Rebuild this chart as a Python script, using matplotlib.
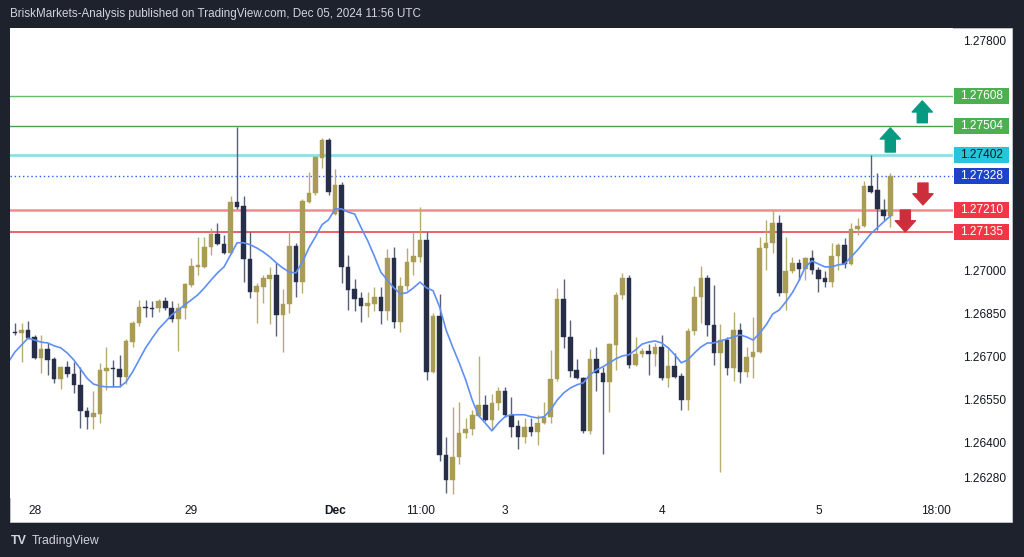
import numpy as np
import matplotlib
matplotlib.use("Agg")
import matplotlib.pyplot as plt
from matplotlib.patches import Rectangle
import matplotlib.transforms as mtransforms

# hourly GBPUSD-style candles, Nov 27 21:00 -> Dec 05 11:00 (UTC)
opens = [1.26786, 1.26782, 1.26793, 1.26769, 1.26696, 1.26727, 1.26693, 1.26623, 1.26665, 1.26640,
         1.26602, 1.26511, 1.26491, 1.26501, 1.26651, 1.26661, 1.26658, 1.26630, 1.26751, 1.26818,
         1.26874, 1.26870, 1.26870, 1.26895, 1.26870, 1.26832, 1.26870, 1.26950, 1.27013, 1.27013,
         1.27083, 1.27128, 1.27093, 1.27062, 1.27239, 1.27225, 1.27041, 1.26926, 1.26943, 1.26971,
         1.26985, 1.26846, 1.26884, 1.27086, 1.26960, 1.27239, 1.27271, 1.27393, 1.27455, 1.27197,
         1.27299, 1.27013, 1.26936, 1.26905, 1.26877, 1.26884, 1.26909, 1.26860, 1.27044, 1.26821,
         1.26946, 1.27030, 1.27048, 1.27107, 1.26647, 1.26842, 1.26358, 1.26271, 1.26350, 1.26435,
         1.26449, 1.26494, 1.26532, 1.26480, 1.26539, 1.26581, 1.26498, 1.26459, 1.26421, 1.26456,
         1.26438, 1.26469, 1.26491, 1.26623, 1.26902, 1.26769, 1.26654, 1.26626, 1.26442, 1.26693,
         1.26644, 1.26612, 1.26741, 1.26916, 1.26974, 1.26672, 1.26710, 1.26720, 1.26710, 1.26734,
         1.26626, 1.26668, 1.26633, 1.26549, 1.26790, 1.26909, 1.26974, 1.26811, 1.26713, 1.26758,
         1.26661, 1.26793, 1.26647, 1.26700, 1.26717, 1.27079, 1.27097, 1.27166, 1.26923, 1.26999,
         1.27027, 1.27006, 1.27044, 1.27002, 1.26974, 1.26960, 1.27051, 1.27090, 1.27023, 1.27145,
         1.27156, 1.27295, 1.27281, 1.27211, 1.27190]
highs = [1.26818, 1.26818, 1.26825, 1.26776, 1.26776, 1.26748, 1.26700, 1.26668, 1.26686, 1.26682,
         1.26665, 1.26525, 1.26581, 1.26679, 1.26734, 1.26689, 1.26707, 1.26762, 1.26825, 1.26898,
         1.26898, 1.26895, 1.26902, 1.26909, 1.26895, 1.26888, 1.26957, 1.27044, 1.27118, 1.27118,
         1.27149, 1.27166, 1.27125, 1.27260, 1.27501, 1.27260, 1.27135, 1.26957, 1.26985, 1.27013,
         1.27027, 1.26936, 1.27139, 1.27097, 1.27250, 1.27344, 1.27400, 1.27462, 1.27462, 1.27355,
         1.27309, 1.27055, 1.26971, 1.26926, 1.26926, 1.26943, 1.26943, 1.27076, 1.27083, 1.26978,
         1.27079, 1.27135, 1.27222, 1.27135, 1.26853, 1.26919, 1.26421, 1.26525, 1.26542, 1.26487,
         1.26515, 1.26703, 1.26567, 1.26570, 1.26595, 1.26595, 1.26560, 1.26480, 1.26487, 1.26487,
         1.26498, 1.26542, 1.26724, 1.26940, 1.26971, 1.26828, 1.26693, 1.26630, 1.26727, 1.26734,
         1.26665, 1.26748, 1.26926, 1.26992, 1.26985, 1.26769, 1.26731, 1.26744, 1.26748, 1.26776,
         1.26734, 1.26713, 1.26644, 1.26800, 1.26946, 1.27016, 1.26985, 1.26950, 1.26814, 1.26769,
         1.26856, 1.26818, 1.26734, 1.26839, 1.27118, 1.27177, 1.27211, 1.27194, 1.27118, 1.27048,
         1.27041, 1.27048, 1.27072, 1.27013, 1.26999, 1.27097, 1.27097, 1.27114, 1.27166, 1.27184,
         1.27312, 1.27403, 1.27340, 1.27250, 1.27340]
lows = [1.26776, 1.26682, 1.26762, 1.26693, 1.26644, 1.26637, 1.26609, 1.26588, 1.26630, 1.26574,
        1.26452, 1.26449, 1.26449, 1.26469, 1.26584, 1.26595, 1.26595, 1.26605, 1.26734, 1.26807,
        1.26839, 1.26839, 1.26856, 1.26863, 1.26821, 1.26720, 1.26832, 1.26943, 1.26985, 1.27009,
        1.27055, 1.27090, 1.27058, 1.27058, 1.27215, 1.26960, 1.26905, 1.26818, 1.26888, 1.26814,
        1.26772, 1.26717, 1.26853, 1.26909, 1.26923, 1.27236, 1.27264, 1.27358, 1.27264, 1.27194,
        1.26957, 1.26863, 1.26860, 1.26821, 1.26839, 1.26860, 1.26814, 1.26828, 1.26800, 1.26786,
        1.26933, 1.26985, 1.27030, 1.26619, 1.26644, 1.26337, 1.26226, 1.26222, 1.26326, 1.26417,
        1.26428, 1.26491, 1.26476, 1.26445, 1.26515, 1.26491, 1.26421, 1.26379, 1.26400, 1.26424,
        1.26393, 1.26466, 1.26469, 1.26616, 1.26731, 1.26630, 1.26623, 1.26435, 1.26431, 1.26581,
        1.26361, 1.26508, 1.26654, 1.26902, 1.26661, 1.26668, 1.26700, 1.26637, 1.26668, 1.26619,
        1.26595, 1.26626, 1.26515, 1.26515, 1.26776, 1.26818, 1.26772, 1.26672, 1.26299, 1.26637,
        1.26616, 1.26609, 1.26630, 1.26626, 1.26713, 1.27002, 1.27062, 1.26912, 1.26863, 1.26992,
        1.26967, 1.26967, 1.26988, 1.26926, 1.26943, 1.26943, 1.27002, 1.27009, 1.27020, 1.27125,
        1.27152, 1.27271, 1.27142, 1.27177, 1.27152]
closes = [1.26782, 1.26793, 1.26765, 1.26696, 1.26727, 1.26689, 1.26623, 1.26665, 1.26640, 1.26602,
          1.26511, 1.26491, 1.26504, 1.26654, 1.26661, 1.26658, 1.26630, 1.26755, 1.26818, 1.26874,
          1.26870, 1.26867, 1.26895, 1.26870, 1.26832, 1.26870, 1.26953, 1.27016, 1.27020, 1.27083,
          1.27128, 1.27093, 1.27062, 1.27239, 1.27222, 1.27041, 1.26926, 1.26946, 1.26974, 1.26985,
          1.26846, 1.26884, 1.27086, 1.26960, 1.27243, 1.27271, 1.27396, 1.27455, 1.27274, 1.27299,
          1.27013, 1.26933, 1.26902, 1.26877, 1.26888, 1.26909, 1.26860, 1.27044, 1.26821, 1.26946,
          1.27030, 1.27051, 1.27107, 1.26647, 1.26842, 1.26358, 1.26271, 1.26350, 1.26435, 1.26449,
          1.26498, 1.26532, 1.26480, 1.26539, 1.26581, 1.26498, 1.26456, 1.26421, 1.26456, 1.26438,
          1.26469, 1.26491, 1.26623, 1.26902, 1.26769, 1.26651, 1.26626, 1.26442, 1.26693, 1.26644,
          1.26612, 1.26744, 1.26916, 1.26974, 1.26672, 1.26710, 1.26720, 1.26710, 1.26734, 1.26626,
          1.26668, 1.26630, 1.26549, 1.26790, 1.26909, 1.26974, 1.26811, 1.26713, 1.26758, 1.26661,
          1.26793, 1.26647, 1.26700, 1.26717, 1.27079, 1.27097, 1.27166, 1.26923, 1.26999, 1.27027,
          1.27006, 1.27044, 1.27002, 1.26971, 1.26960, 1.27051, 1.27090, 1.27023, 1.27145, 1.27156,
          1.27295, 1.27274, 1.27215, 1.27190, 1.27330]

# moving average as drawn (first value belongs to the candle just off the left edge)
ma_values = [1.26682,
             1.26717, 1.26741, 1.26765, 1.26758, 1.26751, 1.26748, 1.26738, 1.26731, 1.26713, 1.26689,
             1.26658, 1.26626, 1.26605, 1.26598, 1.26595, 1.26595, 1.26595, 1.26612, 1.26647, 1.26689,
             1.26731, 1.26765, 1.26797, 1.26821, 1.26846, 1.26863, 1.26881, 1.26898, 1.26916, 1.26940,
             1.26967, 1.26992, 1.27013, 1.27055, 1.27097, 1.27097, 1.27090, 1.27079, 1.27065, 1.27048,
             1.27027, 1.27009, 1.26995, 1.26992, 1.27030, 1.27079, 1.27118, 1.27160, 1.27177, 1.27215,
             1.27215, 1.27204, 1.27197, 1.27149, 1.27104, 1.27051, 1.26995, 1.26967, 1.26940, 1.26919,
             1.26923, 1.26940, 1.26960, 1.26940, 1.26930, 1.26874, 1.26793, 1.26734, 1.26679, 1.26619,
             1.26549, 1.26494, 1.26469, 1.26442, 1.26469, 1.26491, 1.26498, 1.26498, 1.26498, 1.26491,
             1.26487, 1.26491, 1.26515, 1.26549, 1.26574, 1.26591, 1.26602, 1.26609, 1.26637, 1.26654,
             1.26665, 1.26679, 1.26693, 1.26703, 1.26707, 1.26724, 1.26744, 1.26751, 1.26755, 1.26748,
             1.26731, 1.26707, 1.26679, 1.26689, 1.26713, 1.26734, 1.26748, 1.26748, 1.26755, 1.26762,
             1.26769, 1.26776, 1.26769, 1.26758, 1.26782, 1.26811, 1.26849, 1.26863, 1.26891, 1.26923,
             1.26964, 1.27013, 1.27034, 1.27023, 1.27013, 1.27013, 1.27020, 1.27023, 1.27048, 1.27072,
             1.27100, 1.27128, 1.27149, 1.27170, 1.27190]

# horizontal levels drawn on the chart
level_prices = [1.27608, 1.27504, 1.27402, 1.27328, 1.27210, 1.27135]
level_labels = ["1.27608", "1.27504", "1.27402", "1.27328", "1.27210", "1.27135"]

price_ticks = [1.27800, 1.27000, 1.26850, 1.26700, 1.26550, 1.26400, 1.26280]

time_tick_pos = [4, 28, 50, 63, 76, 100, 124, 142]
time_tick_labels = ["28", "29", "Dec", "11:00", "3", "4", "5", "18:00"]

BG = "#1e222d"
UP = "#a99c55"
UP_WICK = "#b8ad70"
DOWN = "#262e48"
DOWN_WICK = "#5a607a"
TXT = "#131722"
FONT = "Liberation Sans"

W, H = 1024, 557
fig = plt.figure(figsize=(W / 100, H / 100), dpi=100, facecolor=BG)

# white chart panel (behind the axes)
fig.patches.append(Rectangle((10 / W, (H - 522) / H), 1002 / W, 494 / H,
                             transform=fig.transFigure, facecolor="white",
                             edgecolor="#c7c9d0", linewidth=0.6, zorder=-5))

ax = fig.add_axes([10 / W, (H - 498) / H, 943 / W, 470 / H])
ax.set_facecolor("white")
for s in ax.spines.values():
    s.set_visible(False)

x = np.arange(1, len(opens) + 1)
o = np.array(opens)
c = np.array(closes)
hi = np.array(highs)
lo = np.array(lows)
up = c >= o

# wicks
ax.vlines(x[up], lo[up], hi[up], color=UP_WICK, linewidth=1.0, zorder=2)
ax.vlines(x[~up], lo[~up], hi[~up], color=DOWN_WICK, linewidth=1.0, zorder=2)

# bodies
body_lo = np.minimum(o, c)
body_h = np.maximum(np.abs(c - o), 0.00004)
ax.bar(x[up], body_h[up], bottom=body_lo[up], width=0.7, color=UP,
       edgecolor=UP, linewidth=0.3, zorder=3)
ax.bar(x[~up], body_h[~up], bottom=body_lo[~up], width=0.7, color=DOWN,
       edgecolor=DOWN, linewidth=0.3, zorder=3)

# moving average
ax.plot(np.arange(0, len(ma_values)), ma_values, color="#5f8ff5", linewidth=1.2, zorder=4)

# levels
level_styles = [
    dict(color="#66bb6a", lw=1.0, ls="-"),
    dict(color="#4c9a50", lw=1.0, ls="-"),
    dict(color="#8ddfe8", lw=2.0, ls="-"),
    dict(color="#2962ff", lw=1.0, ls=(0, (1, 2))),
    dict(color="#f58a90", lw=1.8, ls="-"),
    dict(color="#ef5f67", lw=1.4, ls="-"),
]
box_colors = ["#4caf50", "#4caf50", "#26c6da", "#1d43c9", "#f23645", "#f23645"]
box_text = ["white", "white", TXT, "white", "white", "white"]
for p, st in zip(level_prices, level_styles):
    ax.axhline(p, color=st["color"], linewidth=st["lw"], linestyle=st["ls"], zorder=1)

ax.set_xlim(0.234, 144.6)
ax.set_ylim(1.26208, 1.27845)

blend = mtransforms.blended_transform_factory(ax.transAxes, ax.transData)
box_h = 16 * (1.27845 - 1.26208) / 470
for p, lab, bc, tc in zip(level_prices, level_labels, box_colors, box_text):
    ax.add_patch(Rectangle((944 / 943, p - box_h / 2), 55 / 943, box_h, transform=blend,
                           facecolor=bc, edgecolor="none", clip_on=False, zorder=5))
    ax.text(971.5 / 943, p, lab, transform=blend, ha="center", va="center",
            color=tc, fontsize=8.6, family=FONT, clip_on=False, zorder=6)

# arrows (tail -> tip)
arrow_specs = [
    ((135.0, 1.27413), (135.0, 1.27497), "#089981"),
    ((139.9, 1.27515), (139.9, 1.27591), "#089981"),
    ((140.0, 1.27305), (140.0, 1.27229), "#cc2f3b"),
    ((137.3, 1.27211), (137.3, 1.27135), "#cc2f3b"),
]
for tail, tip, col in arrow_specs:
    ax.annotate("", xy=tip, xytext=tail,
                arrowprops=dict(arrowstyle="simple,head_length=0.55,head_width=1.0,tail_width=0.5",
                                mutation_scale=14.5, color=col, shrinkA=0, shrinkB=0),
                annotation_clip=False, zorder=7)

# price axis
ax.yaxis.tick_right()
ax.set_yticks(price_ticks)
ax.set_yticklabels([f"{v:.5f}" for v in price_ticks], family=FONT, fontsize=8.6, color=TXT)
ax.tick_params(axis="y", length=0, pad=7)

# time axis
ax.set_xticks(time_tick_pos)
ax.set_xticklabels(time_tick_labels, family=FONT, fontsize=8.6, color=TXT)
ax.get_xticklabels()[2].set_fontweight("bold")
ax.tick_params(axis="x", length=0, pad=5)

# header and footer
fig.text(10 / W, 1 - 14 / H, "BriskMarkets-Analysis published on TradingView.com, Dec 05, 2024 11:56 UTC",
         color="#d1d4dc", fontsize=8.4, family=FONT, va="center", ha="left")
fig.text(11 / W, 1 - 541 / H, "TV", color="#d1d4dc", fontsize=9, family=FONT,
         fontweight="bold", va="center", ha="left")
fig.text(32 / W, 1 - 541 / H, "TradingView", color="#d1d4dc", fontsize=8.8, family=FONT,
         va="center", ha="left")

fig.savefig("out.png", dpi=100, facecolor=BG)
